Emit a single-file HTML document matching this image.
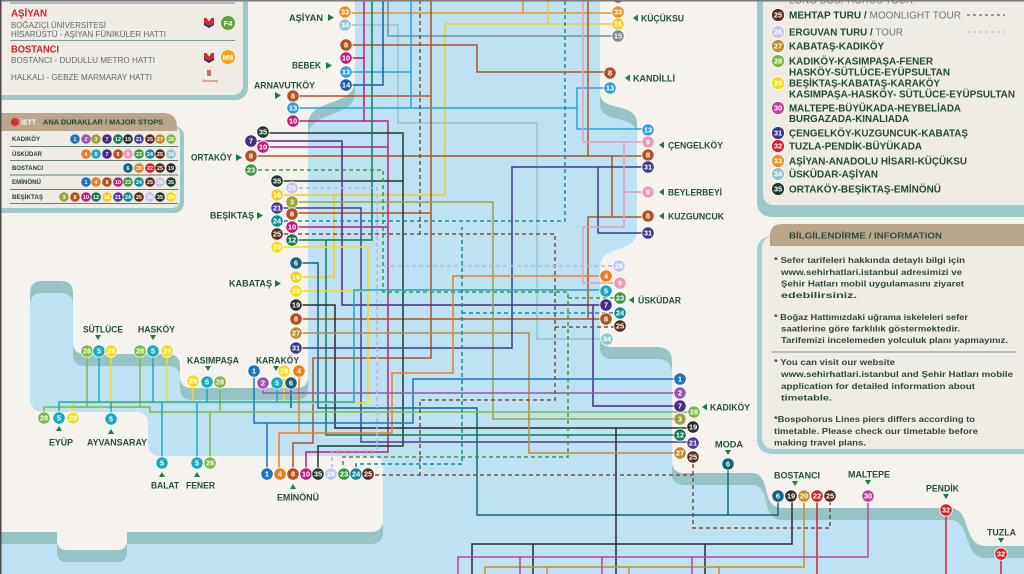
<!DOCTYPE html>
<html><head><meta charset="utf-8">
<style>
html,body{margin:0;padding:0;background:#f6f2ed;}
svg{display:block}
.m circle{stroke:#fff;stroke-width:.8}
.m text{font-family:"Liberation Sans",sans-serif;font-weight:bold;font-size:7.5px;fill:#fff;text-anchor:middle}
.t circle{stroke:none}
.t text{font-family:"Liberation Sans",sans-serif;font-weight:bold;font-size:5.3px;fill:#fff;text-anchor:middle}
.c1{fill:#1976bb}.c2{fill:#9a58ac}.c3{fill:#9ca23b}.c4{fill:#ee7c1c}.c5{fill:#18aabf}.c6{fill:#12677d}.c7{fill:#4a2b83}.c8{fill:#b3511f}.c9{fill:#ee9ab5}.c10{fill:#c11c78}.c12{fill:#13785a}.c13{fill:#2aa1de}.c14{fill:#1a5da6}.c15{fill:#7c8a8d}.c16{fill:#f3cd22}.c19{fill:#2b2b2b}.c20{fill:#cf8a24}.c21{fill:#4b3d9a}.c22{fill:#d2202c}.c23{fill:#3a993c}.c24{fill:#148a9a}.c25{fill:#5a2b1d}.c26{fill:#c5c5e9}.c27{fill:#c08a33}.c28{fill:#7bb944}.c29{fill:#f5dc14}.c30{fill:#c041a0}.c31{fill:#393a8c}.c32{fill:#d8202b}.c33{fill:#ef8f1f}.c34{fill:#91c6ce}.c35{fill:#1d3a2a}
.l{font-family:"Liberation Sans",sans-serif;font-weight:bold;font-size:9.5px;fill:#23503a}
.g{font-family:"Liberation Sans",sans-serif;font-weight:bold;font-size:10px;fill:#1f4a30}
.i{font-family:"Liberation Sans",sans-serif;font-weight:bold;font-size:8.6px;fill:#2c4a38}
.r{font-family:"Liberation Sans",sans-serif;font-weight:bold;font-size:6px;fill:#23403a}
.p{font-family:"Liberation Sans",sans-serif;font-size:8.5px;fill:#5d6b6b}
.red{font-family:"Liberation Sans",sans-serif;font-weight:bold;font-size:10px;fill:#d4202a}
.tri{fill:#1e7a3e}
</style></head>
<body>
<svg width="1024" height="574" viewBox="0 0 1024 574" xmlns="http://www.w3.org/2000/svg">
<rect width="1024" height="574" fill="#bde2f4"/>
<defs>
<path id="eu" d="M0,0 L355,0 L355,80 C355,108 308,97 308,125 L308,376 Q308,388 296,388 L192,388 Q180,388 180,376 L180,366 Q180,354 168,354 L85,354 Q73,354 73,342 L73,293 Q73,281 61,281 L42,281 Q30,281 30,293 L30,398 Q30,412 44,412 L136,412 Q148,412 148,424 L148,444 Q148,456 161,456 L371,456 Q383,456 383,468 L383,520 Q383,532 371,532 L127,532 L127,540 Q127,550 117,550 L67,550 Q57,550 57,540 L57,532 L0,532 Z"/>
<path id="as" d="M600,0 L600,92 C600,114 637,100 637,124 L637,230 C637,256 600,242 600,268 L600,335 Q600,347 612,347 L657,347 Q672,347 672,362 L672,461 Q672,473 684,473 L752,473 C772,473 760,508 782,508 L950,508 C972,508 962,546 986,546 L1024,546 L1024,0 Z"/>
</defs>
<g fill="#96c4c4" transform="translate(0,12)"><use href="#eu"/><use href="#as"/></g>
<use href="#eu" fill="#f6f2ed"/>
<use href="#as" fill="#f6f2ed"/>

<!-- top-left legend panel -->
<rect x="-20" y="-20" width="268" height="120" rx="12" fill="#9cc8c9"/>
<rect x="-20" y="-20" width="263" height="115" rx="10" fill="#efebe5"/>
<line x1="10" y1="3" x2="235" y2="3" stroke="#6f8c86" stroke-width="1"/>
<text class="red" x="11" y="16.5" textLength="36" lengthAdjust="spacingAndGlyphs">AŞİYAN</text>
<text class="p" x="11" y="28" textLength="95" lengthAdjust="spacingAndGlyphs">BOĞAZİÇİ ÜNİVERSİTESİ</text>
<text class="p" x="11" y="37" textLength="155" lengthAdjust="spacingAndGlyphs">HİSARÜSTÜ - AŞİYAN FÜNİKÜLER HATTI</text>
<line x1="10" y1="40.5" x2="235" y2="40.5" stroke="#7a9a94" stroke-width="1"/>
<text class="red" x="11" y="52.5" textLength="48" lengthAdjust="spacingAndGlyphs">BOSTANCI</text>
<text class="p" x="11" y="63" textLength="144" lengthAdjust="spacingAndGlyphs">BOSTANCI - DUDULLU METRO HATTI</text>
<text class="p" x="11" y="80" textLength="141" lengthAdjust="spacingAndGlyphs">HALKALI - GEBZE MARMARAY HATTI</text>
<path d="M204,18 L206.5,18 L209,21.5 L211.5,18 L214,18 L214,23 L209,26 L204,23 Z" fill="#d22a2a"/>
<path d="M204,23 L209,26 L214,23 L214,25 L209,28 L204,25 Z" fill="#1f2d6b"/>
<path d="M204,53 L206.5,53 L209,56.5 L211.5,53 L214,53 L214,58 L209,61 L204,58 Z" fill="#d22a2a"/>
<path d="M204,58 L209,61 L214,58 L214,60 L209,63 L204,60 Z" fill="#1f2d6b"/>
<circle cx="228" cy="23" r="7" fill="#5aa83c"/><text x="228" y="25.8" font-family="Liberation Sans,sans-serif" font-weight="bold" font-size="7.5" fill="#fff" text-anchor="middle">F4</text>
<circle cx="228" cy="57" r="7" fill="#f2a51c"/><text x="228" y="59.8" font-family="Liberation Sans,sans-serif" font-weight="bold" font-size="7.5" fill="#fff" text-anchor="middle">M8</text>
<rect x="207" y="70" width="4" height="6" fill="#c33" opacity=".7"/>
<text x="210" y="82" font-family="Liberation Sans,sans-serif" font-size="3.5" fill="#c33" text-anchor="middle">Marmaray</text>

<!-- stops table -->
<rect x="-10" y="126" width="194" height="87" rx="10" fill="#9cc8c9"/>
<rect x="-10" y="126" width="190" height="82" rx="8" fill="#efebe5"/>
<path d="M0,113 L163,113 Q177,113 177,127 L177,131 L0,131 Z" fill="#b9a68b"/>
<circle cx="15" cy="122" r="4" fill="#d9302c"/>
<text x="21" y="124.5" font-family="Liberation Sans,sans-serif" font-weight="bold" font-size="7" fill="#fff">İETT</text>
<text x="43" y="124.5" font-family="Liberation Sans,sans-serif" font-weight="bold" font-size="7.5" fill="#1f4a30" textLength="120" lengthAdjust="spacingAndGlyphs">ANA DURAKLAR / MAJOR STOPS</text>
<text class="r" x="12" y="141.2" textLength="28" lengthAdjust="spacingAndGlyphs">KADIKÖY</text>
<text class="r" x="12" y="156.2" textLength="30" lengthAdjust="spacingAndGlyphs">ÜSKÜDAR</text>
<text class="r" x="12" y="170.2" textLength="31" lengthAdjust="spacingAndGlyphs">BOSTANCI</text>
<text class="r" x="12" y="184.2" textLength="29" lengthAdjust="spacingAndGlyphs">EMİNÖNÜ</text>
<text class="r" x="12" y="199.2" textLength="31" lengthAdjust="spacingAndGlyphs">BEŞİKTAŞ</text>
<g stroke="#3a5a48" stroke-width=".8">
<line x1="10" y1="146.5" x2="178" y2="146.5"/><line x1="10" y1="160.5" x2="178" y2="160.5"/><line x1="10" y1="175" x2="178" y2="175"/><line x1="10" y1="189.5" x2="178" y2="189.5"/><line x1="10" y1="203.5" x2="178" y2="203.5"/>
</g>
<g class="t">
<circle class="c1" cx="75" cy="139" r="4.8"/><text x="75" y="141">1</text>
<circle class="c2" cx="86" cy="139" r="4.8"/><text x="86" y="141">2</text>
<circle class="c3" cx="96" cy="139" r="4.8"/><text x="96" y="141">3</text>
<circle class="c7" cx="107" cy="139" r="4.8"/><text x="107" y="141">7</text>
<circle class="c12" cx="118" cy="139" r="4.8"/><text x="118" y="141">12</text>
<circle class="c19" cx="128" cy="139" r="4.8"/><text x="128" y="141">19</text>
<circle class="c21" cx="139" cy="139" r="4.8"/><text x="139" y="141">21</text>
<circle class="c25" cx="150" cy="139" r="4.8"/><text x="150" y="141">25</text>
<circle class="c27" cx="160" cy="139" r="4.8"/><text x="160" y="141">27</text>
<circle class="c28" cx="171" cy="139" r="4.8"/><text x="171" y="141">28</text>

<circle class="c4" cx="86" cy="154" r="4.8"/><text x="86" y="156">4</text>
<circle class="c5" cx="96" cy="154" r="4.8"/><text x="96" y="156">5</text>
<circle class="c7" cx="107" cy="154" r="4.8"/><text x="107" y="156">7</text>
<circle class="c8" cx="118" cy="154" r="4.8"/><text x="118" y="156">8</text>
<circle class="c9" cx="128" cy="154" r="4.8"/><text x="128" y="156">9</text>
<circle class="c23" cx="139" cy="154" r="4.8"/><text x="139" y="156">23</text>
<circle class="c24" cx="150" cy="154" r="4.8"/><text x="150" y="156">24</text>
<circle class="c25" cx="160" cy="154" r="4.8"/><text x="160" y="156">25</text>
<circle class="c34" cx="171" cy="154" r="4.8"/><text x="171" y="156">34</text>

<circle class="c6" cx="128" cy="168" r="4.8"/><text x="128" y="170">6</text>
<circle class="c20" cx="139" cy="168" r="4.8"/><text x="139" y="170">20</text>
<circle class="c22" cx="150" cy="168" r="4.8"/><text x="150" y="170">22</text>
<circle class="c25" cx="160" cy="168" r="4.8"/><text x="160" y="170">25</text>
<circle class="c19" cx="171" cy="168" r="4.8"/><text x="171" y="170">19</text>

<circle class="c1" cx="86" cy="182" r="4.8"/><text x="86" y="184">1</text>
<circle class="c4" cx="96" cy="182" r="4.8"/><text x="96" y="184">4</text>
<circle class="c8" cx="107" cy="182" r="4.8"/><text x="107" y="184">8</text>
<circle class="c10" cx="118" cy="182" r="4.8"/><text x="118" y="184">10</text>
<circle class="c23" cx="128" cy="182" r="4.8"/><text x="128" y="184">23</text>
<circle class="c24" cx="139" cy="182" r="4.8"/><text x="139" y="184">24</text>
<circle class="c25" cx="150" cy="182" r="4.8"/><text x="150" y="184">25</text>
<circle class="c26" cx="160" cy="182" r="4.8"/><text x="160" y="184">26</text>
<circle class="c35" cx="171" cy="182" r="4.8"/><text x="171" y="184">35</text>

<circle class="c3" cx="64" cy="197" r="4.8"/><text x="64" y="199">3</text>
<circle class="c8" cx="75" cy="197" r="4.8"/><text x="75" y="199">8</text>
<circle class="c10" cx="86" cy="197" r="4.8"/><text x="86" y="199">10</text>
<circle class="c12" cx="96" cy="197" r="4.8"/><text x="96" y="199">12</text>
<circle class="c16" cx="107" cy="197" r="4.8"/><text x="107" y="199">16</text>
<circle class="c21" cx="118" cy="197" r="4.8"/><text x="118" y="199">21</text>
<circle class="c24" cx="128" cy="197" r="4.8"/><text x="128" y="199">24</text>
<circle class="c25" cx="139" cy="197" r="4.8"/><text x="139" y="199">25</text>
<circle class="c26" cx="150" cy="197" r="4.8"/><text x="150" y="199">26</text>
<circle class="c35" cx="160" cy="197" r="4.8"/><text x="160" y="199">35</text>
<circle class="c29" cx="171" cy="197" r="4.8"/><text x="171" y="199">29</text>
</g>

<!-- right legend panel -->
<rect x="757" y="-20" width="300" height="237" rx="14" fill="#9cc8c9"/>
<rect x="763" y="-20" width="300" height="225" rx="10" fill="#efebe5"/>
<!-- info panel -->
<rect x="757" y="236" width="300" height="218" rx="14" fill="#a3d0d6"/>
<rect x="762" y="236" width="300" height="213" rx="11" fill="#efebe5"/>
<path d="M770,246 L770,236 Q770,224 782,224 L1024,224 L1024,246 Z" fill="#b9a68b"/>
<text class="i" x="789" y="238.5" font-size="9" fill="#1f4a30" textLength="153" lengthAdjust="spacingAndGlyphs">BİLGİLENDİRME / INFORMATION</text>
<text class="i" x="774" y="263" textLength="191" lengthAdjust="spacingAndGlyphs">* Sefer tarifeleri hakkında detaylı bilgi için</text>
<text class="i" x="781" y="275" textLength="181" lengthAdjust="spacingAndGlyphs">www.sehirhatlari.istanbul adresimizi ve</text>
<text class="i" x="781" y="286.5" textLength="183" lengthAdjust="spacingAndGlyphs">Şehir Hatları mobil uygulamasını ziyaret</text>
<text class="i" x="781" y="298" textLength="76" lengthAdjust="spacingAndGlyphs">edebilirsiniz.</text>
<text class="i" x="774" y="320" textLength="194" lengthAdjust="spacingAndGlyphs">* Boğaz Hattımızdaki uğrama iskeleleri sefer</text>
<text class="i" x="781" y="331.5" textLength="179" lengthAdjust="spacingAndGlyphs">saatlerine göre farklılık göstermektedir.</text>
<text class="i" x="781" y="343" textLength="227" lengthAdjust="spacingAndGlyphs">Tarifemizi incelemeden yolculuk planı yapmayınız.</text>
<line x1="772" y1="352" x2="1016" y2="352" stroke="#5a6a60" stroke-width=".8"/>
<text class="i" x="774" y="365" textLength="121" lengthAdjust="spacingAndGlyphs">* You can visit our website</text>
<text class="i" x="781" y="377" textLength="232" lengthAdjust="spacingAndGlyphs">www.sehirhatlari.istanbul and Şehir Hatları mobile</text>
<text class="i" x="781" y="389" textLength="194" lengthAdjust="spacingAndGlyphs">application for detailed information about</text>
<text class="i" x="781" y="400.5" textLength="51" lengthAdjust="spacingAndGlyphs">timetable.</text>
<text class="i" x="774" y="422" textLength="201" lengthAdjust="spacingAndGlyphs">*Bospohorus Lines piers differs according to</text>
<text class="i" x="774" y="434" textLength="204" lengthAdjust="spacingAndGlyphs">timetable. Please check our timetable before</text>
<text class="i" x="774" y="445.5" textLength="92" lengthAdjust="spacingAndGlyphs">making travel plans.</text>

<!-- route lines -->
<g fill="none" stroke-width="1.5">
<path stroke="#ef8f1f" d="M345,13H618M523,0V13"/>
<path stroke="#91c6ce" d="M345,25H398V123H537V339H607"/>
<path stroke="#f3cd22" d="M618,24H445V195H277M548,0V24M296,277H334V195"/>
<path stroke="#7c8a8d" d="M618,36H388V0"/>
<path stroke="#b3511f" d="M346,45H477V72H610M293,96H431M431,0V358H313V443H293V474M292,213H431M251,156H648M588,0V156M612,156V217M296,319H606M588,319V217H648"/>
<path stroke="#c11c78" d="M364,0V122M346,58H364M293,121H388V452H306V474M263,147H388M292,227H388"/>
<path stroke="#2aa1de" d="M411,0V108M346,72H411M293,108H577M610,88H577V129H648"/>
<path stroke="#1a5da6" d="M346,85H383V0"/>
<path stroke="#1d3a2a" d="M263,133H403V446H318V474M277,181H403"/>
<path stroke="#4a2b83" d="M251,141H342V305H606M593,305V406H680"/>
<path stroke="#9ca23b" d="M292,202H493V419H680"/>
<path stroke="#4b3d9a" d="M277,208H361V442H693"/>
<path stroke="#13785a" d="M292,240H372V0M326,240V435H680"/>
<path stroke="#f5dc14" d="M277,247H368V403H73V418M296,291H368M111,351V403M167,351V403M193,381V403M284,371V403"/>
<path stroke="#12677d" d="M296,263H318V408H477V515H778V496M291,383V408M728,464V515"/>
<path stroke="#2b2b2b" d="M296,305H335V428H693M616,428V574M792,496V544H472V574M533,544V574M705,544V574"/>
<path stroke="#c08a33" d="M296,333H529V453H680"/>
<path stroke="#393a8c" d="M296,348H512V167H648M598,167V233H648"/>
<path stroke="#ee7c1c" d="M606,276H453V373H392V433H279V474M299,371V433"/>
<path stroke="#1976bb" d="M680,379H413V423H254V371M267,423V474"/>
<path stroke="#9a58ac" d="M263,383V393H680"/>
<path stroke="#7bb944" d="M44,418V407H150V412H694M87,351V407M140,351V407M220,382V412M210,463V412"/>
<path stroke="#18aabf" d="M606,290H354V402H59V418M99,351V402M153,351V402M207,382V402M277,383V402M111,419V402M162,463V402M197,463V402"/>
<path stroke="#ee9ab5" d="M583,0V142H648M624,142V227H583V283H620M624,192H648"/>
<path stroke="#cf8a24" d="M804,496V567H485V574M547,567V574M629,567V574M719,567V574"/>
<path stroke="#d2202c" d="M817,496V574"/>
<path stroke="#c041a0" d="M868,496V557H458V574M520,557V574M602,557V574M692,557V574"/>
<path stroke="#d8202b" d="M946,510V574M1001,554V574"/>
<path stroke="#3a993c" stroke-dasharray="4 3" d="M251,170H383V292H568V457H343V474M568,298H620"/>
<path stroke="#148a9a" stroke-dasharray="4 3" d="M277,221H565V0M356,474V464H462V227M462,313H620"/>
<path stroke="#7a5040" stroke-dasharray="4 3" d="M277,234H555V400H420V475M368,475H693M693,457V528H830V496M555,327H620M420,0V234"/>
<path stroke="#b5b5e0" stroke-dasharray="4 3" d="M292,188H377V451H332V474M377,266H619"/>
<path stroke="#9a7060" stroke-dasharray="3 3" d="M967,15H1005"/>
<path stroke="#c5c5e9" stroke-dasharray="3 3" d="M967,32H1005"/>
</g>

<!-- stop circles -->
<g class="m">
<circle class="c33" cx="345" cy="12" r="6.2"/><text x="345" y="14.7">33</text>
<circle class="c34" cx="345" cy="25" r="6.2"/><text x="345" y="27.7">34</text>
<circle class="c8" cx="346" cy="45" r="6.2"/><text x="346" y="47.7">8</text>
<circle class="c10" cx="346" cy="58" r="6.2"/><text x="346" y="60.7">10</text>
<circle class="c13" cx="346" cy="72" r="6.2"/><text x="346" y="74.7">13</text>
<circle class="c14" cx="346" cy="85" r="6.2"/><text x="346" y="87.7">14</text>
<circle class="c8" cx="293" cy="96" r="6.2"/><text x="293" y="98.7">8</text>
<circle class="c13" cx="293" cy="108" r="6.2"/><text x="293" y="110.7">13</text>
<circle class="c10" cx="293" cy="121" r="6.2"/><text x="293" y="123.7">10</text>
<circle class="c35" cx="263" cy="132" r="6.2"/><text x="263" y="134.7">35</text>
<circle class="c7" cx="251" cy="141" r="6.2"/><text x="251" y="143.7">7</text>
<circle class="c10" cx="263" cy="147" r="6.2"/><text x="263" y="149.7">10</text>
<circle class="c8" cx="251" cy="156" r="6.2"/><text x="251" y="158.7">8</text>
<circle class="c23" cx="251" cy="170" r="6.2"/><text x="251" y="172.7">23</text>
<circle class="c35" cx="277" cy="181" r="6.2"/><text x="277" y="183.7">35</text>
<circle class="c26" cx="292" cy="188" r="6.2"/><text x="292" y="190.7">26</text>
<circle class="c16" cx="277" cy="195" r="6.2"/><text x="277" y="197.7">16</text>
<circle class="c3" cx="292" cy="202" r="6.2"/><text x="292" y="204.7">3</text>
<circle class="c21" cx="277" cy="208" r="6.2"/><text x="277" y="210.7">21</text>
<circle class="c8" cx="292" cy="214" r="6.2"/><text x="292" y="216.7">8</text>
<circle class="c24" cx="277" cy="221" r="6.2"/><text x="277" y="223.7">24</text>
<circle class="c10" cx="292" cy="227" r="6.2"/><text x="292" y="229.7">10</text>
<circle class="c25" cx="277" cy="234" r="6.2"/><text x="277" y="236.7">25</text>
<circle class="c12" cx="292" cy="240" r="6.2"/><text x="292" y="242.7">12</text>
<circle class="c29" cx="277" cy="247" r="6.2"/><text x="277" y="249.7">29</text>
<circle class="c6" cx="296" cy="263" r="6.2"/><text x="296" y="265.7">6</text>
<circle class="c16" cx="296" cy="277" r="6.2"/><text x="296" y="279.7">16</text>
<circle class="c29" cx="296" cy="291" r="6.2"/><text x="296" y="293.7">29</text>
<circle class="c19" cx="296" cy="305" r="6.2"/><text x="296" y="307.7">19</text>
<circle class="c8" cx="296" cy="319" r="6.2"/><text x="296" y="321.7">8</text>
<circle class="c27" cx="296" cy="333" r="6.2"/><text x="296" y="335.7">27</text>
<circle class="c31" cx="296" cy="348" r="6.2"/><text x="296" y="350.7">31</text>
<circle class="c28" cx="87" cy="351" r="6.2"/><text x="87" y="353.7">28</text>
<circle class="c5" cx="99" cy="351" r="6.2"/><text x="99" y="353.7">5</text>
<circle class="c29" cx="111" cy="351" r="6.2"/><text x="111" y="353.7">29</text>
<circle class="c28" cx="140" cy="351" r="6.2"/><text x="140" y="353.7">28</text>
<circle class="c5" cx="153" cy="351" r="6.2"/><text x="153" y="353.7">5</text>
<circle class="c29" cx="167" cy="351" r="6.2"/><text x="167" y="353.7">29</text>
<circle class="c29" cx="193" cy="381" r="6.2"/><text x="193" y="383.7">29</text>
<circle class="c5" cx="207" cy="382" r="6.2"/><text x="207" y="384.7">5</text>
<circle class="c28" cx="220" cy="382" r="6.2"/><text x="220" y="384.7">28</text>
<circle class="c1" cx="254" cy="371" r="6.2"/><text x="254" y="373.7">1</text>
<circle class="c29" cx="284" cy="371" r="6.2"/><text x="284" y="373.7">29</text>
<circle class="c4" cx="299" cy="371" r="6.2"/><text x="299" y="373.7">4</text>
<circle class="c2" cx="263" cy="383" r="6.2"/><text x="263" y="385.7">2</text>
<circle class="c5" cx="277" cy="383" r="6.2"/><text x="277" y="385.7">5</text>
<circle class="c6" cx="291" cy="383" r="6.2"/><text x="291" y="385.7">6</text>
<circle class="c28" cx="44" cy="418" r="6.2"/><text x="44" y="420.7">28</text>
<circle class="c5" cx="59" cy="418" r="6.2"/><text x="59" y="420.7">5</text>
<circle class="c29" cx="73" cy="418" r="6.2"/><text x="73" y="420.7">29</text>
<circle class="c5" cx="111" cy="419" r="6.2"/><text x="111" y="421.7">5</text>
<circle class="c5" cx="162" cy="463" r="6.2"/><text x="162" y="465.7">5</text>
<circle class="c5" cx="197" cy="463" r="6.2"/><text x="197" y="465.7">5</text>
<circle class="c28" cx="210" cy="463" r="6.2"/><text x="210" y="465.7">28</text>
<circle class="c1" cx="267" cy="474" r="6.2"/><text x="267" y="476.7">1</text>
<circle class="c4" cx="280" cy="474" r="6.2"/><text x="280" y="476.7">4</text>
<circle class="c8" cx="293" cy="474" r="6.2"/><text x="293" y="476.7">8</text>
<circle class="c10" cx="306" cy="474" r="6.2"/><text x="306" y="476.7">10</text>
<circle class="c35" cx="318" cy="474" r="6.2"/><text x="318" y="476.7">35</text>
<circle class="c26" cx="331" cy="474" r="6.2"/><text x="331" y="476.7">26</text>
<circle class="c23" cx="344" cy="474" r="6.2"/><text x="344" y="476.7">23</text>
<circle class="c24" cx="356" cy="474" r="6.2"/><text x="356" y="476.7">24</text>
<circle class="c25" cx="368" cy="474" r="6.2"/><text x="368" y="476.7">25</text>

<circle class="c8" cx="618" cy="-3" r="6.2"/>
<circle class="c33" cx="618" cy="12" r="6.2"/><text x="618" y="14.7">33</text>
<circle class="c16" cx="618" cy="24" r="6.2"/><text x="618" y="26.7">16</text>
<circle class="c15" cx="618" cy="36" r="6.2"/><text x="618" y="38.7">15</text>
<circle class="c8" cx="610" cy="73" r="6.2"/><text x="610" y="75.7">8</text>
<circle class="c13" cx="610" cy="88" r="6.2"/><text x="610" y="90.7">13</text>
<circle class="c13" cx="648" cy="130" r="6.2"/><text x="648" y="132.7">13</text>
<circle class="c9" cx="648" cy="142" r="6.2"/><text x="648" y="144.7">9</text>
<circle class="c8" cx="648" cy="155" r="6.2"/><text x="648" y="157.7">8</text>
<circle class="c31" cx="648" cy="167" r="6.2"/><text x="648" y="169.7">31</text>
<circle class="c9" cx="648" cy="192" r="6.2"/><text x="648" y="194.7">9</text>
<circle class="c8" cx="648" cy="216" r="6.2"/><text x="648" y="218.7">8</text>
<circle class="c31" cx="648" cy="233" r="6.2"/><text x="648" y="235.7">31</text>
<circle class="c26" cx="619" cy="266" r="6.2"/><text x="619" y="268.7">26</text>
<circle class="c4" cx="606" cy="276" r="6.2"/><text x="606" y="278.7">4</text>
<circle class="c9" cx="620" cy="283" r="6.2"/><text x="620" y="285.7">9</text>
<circle class="c5" cx="606" cy="291" r="6.2"/><text x="606" y="293.7">5</text>
<circle class="c23" cx="620" cy="298" r="6.2"/><text x="620" y="300.7">23</text>
<circle class="c7" cx="606" cy="305" r="6.2"/><text x="606" y="307.7">7</text>
<circle class="c24" cx="620" cy="313" r="6.2"/><text x="620" y="315.7">24</text>
<circle class="c8" cx="606" cy="319" r="6.2"/><text x="606" y="321.7">8</text>
<circle class="c25" cx="620" cy="326" r="6.2"/><text x="620" y="328.7">25</text>
<circle class="c34" cx="607" cy="339" r="6.2"/><text x="607" y="341.7">34</text>
<circle class="c1" cx="680" cy="379" r="6.2"/><text x="680" y="381.7">1</text>
<circle class="c2" cx="680" cy="393" r="6.2"/><text x="680" y="395.7">2</text>
<circle class="c7" cx="680" cy="406" r="6.2"/><text x="680" y="408.7">7</text>
<circle class="c28" cx="694" cy="412" r="6.2"/><text x="694" y="414.7">28</text>
<circle class="c3" cx="680" cy="419" r="6.2"/><text x="680" y="421.7">3</text>
<circle class="c19" cx="693" cy="427" r="6.2"/><text x="693" y="429.7">19</text>
<circle class="c12" cx="680" cy="435" r="6.2"/><text x="680" y="437.7">12</text>
<circle class="c21" cx="693" cy="443" r="6.2"/><text x="693" y="445.7">21</text>
<circle class="c27" cx="680" cy="453" r="6.2"/><text x="680" y="455.7">27</text>
<circle class="c25" cx="693" cy="457" r="6.2"/><text x="693" y="459.7">25</text>
<circle class="c6" cx="728" cy="464" r="6.2"/><text x="728" y="466.7">6</text>
<circle class="c6" cx="778" cy="496" r="6.2"/><text x="778" y="498.7">6</text>
<circle class="c19" cx="791" cy="496" r="6.2"/><text x="791" y="498.7">19</text>
<circle class="c20" cx="804" cy="496" r="6.2"/><text x="804" y="498.7">20</text>
<circle class="c22" cx="817" cy="496" r="6.2"/><text x="817" y="498.7">22</text>
<circle class="c25" cx="830" cy="496" r="6.2"/><text x="830" y="498.7">25</text>
<circle class="c30" cx="868" cy="496" r="6.2"/><text x="868" y="498.7">30</text>
<circle class="c32" cx="946" cy="510" r="6.2"/><text x="946" y="512.7">32</text>
<circle class="c32" cx="1001" cy="554" r="6.2"/><text x="1001" y="556.7">32</text>

<!-- legend circles -->
<circle class="c25" cx="778" cy="15" r="6.5"/><text x="778" y="17.7">25</text>
<circle class="c26" cx="778" cy="32" r="6.5"/><text x="778" y="34.7">26</text>
<circle class="c27" cx="778" cy="46" r="6.5"/><text x="778" y="48.7">27</text>
<circle class="c28" cx="778" cy="61" r="6.5"/><text x="778" y="63.7">28</text>
<circle class="c29" cx="778" cy="83" r="6.5"/><text x="778" y="85.7">29</text>
<circle class="c30" cx="778" cy="108" r="6.5"/><text x="778" y="110.7">30</text>
<circle class="c31" cx="778" cy="133" r="6.5"/><text x="778" y="135.7">31</text>
<circle class="c32" cx="778" cy="146" r="6.5"/><text x="778" y="148.7">32</text>
<circle class="c33" cx="778" cy="161" r="6.5"/><text x="778" y="163.7">33</text>
<circle class="c34" cx="778" cy="174" r="6.5"/><text x="778" y="176.7">34</text>
<circle class="c35" cx="778" cy="189" r="6.5"/><text x="778" y="191.7">35</text>
</g>

<!-- legend text -->
<text x="789" y="3.5" font-family="Liberation Sans,sans-serif" font-size="10" fill="#6a7a72" textLength="124" lengthAdjust="spacingAndGlyphs">LONG BOSPHORUS TOUR</text>
<text class="g" x="789" y="18.5" textLength="172" lengthAdjust="spacingAndGlyphs">MEHTAP TURU / <tspan font-weight="normal" fill="#6a7a72">MOONLIGHT TOUR</tspan></text>
<text class="g" x="789" y="35.5" textLength="114" lengthAdjust="spacingAndGlyphs">ERGUVAN TURU / <tspan font-weight="normal" fill="#6a7a72">TOUR</tspan></text>
<text class="g" x="789" y="49.5" textLength="95" lengthAdjust="spacingAndGlyphs">KABATAŞ-KADIKÖY</text>
<text class="g" x="789" y="64.5" textLength="144" lengthAdjust="spacingAndGlyphs">KADIKÖY-KASIMPAŞA-FENER</text>
<text class="g" x="789" y="75.5" textLength="161" lengthAdjust="spacingAndGlyphs">HASKÖY-SÜTLÜCE-EYÜPSULTAN</text>
<text class="g" x="789" y="86.5" textLength="151" lengthAdjust="spacingAndGlyphs">BEŞİKTAŞ-KABATAŞ-KARAKÖY</text>
<text class="g" x="789" y="97.5" textLength="226" lengthAdjust="spacingAndGlyphs">KASIMPAŞA-HASKÖY- SÜTLÜCE-EYÜPSULTAN</text>
<text class="g" x="789" y="111.5" textLength="172" lengthAdjust="spacingAndGlyphs">MALTEPE-BÜYÜKADA-HEYBELİADA</text>
<text class="g" x="789" y="122" textLength="120" lengthAdjust="spacingAndGlyphs">BURGAZADA-KINALIADA</text>
<text class="g" x="789" y="136.5" textLength="179" lengthAdjust="spacingAndGlyphs">ÇENGELKÖY-KUZGUNCUK-KABATAŞ</text>
<text class="g" x="789" y="149.5" textLength="133" lengthAdjust="spacingAndGlyphs">TUZLA-PENDİK-BÜYÜKADA</text>
<text class="g" x="789" y="164.5" textLength="178" lengthAdjust="spacingAndGlyphs">AŞİYAN-ANADOLU HİSARI-KÜÇÜKSU</text>
<text class="g" x="789" y="177.5" textLength="89" lengthAdjust="spacingAndGlyphs">ÜSKÜDAR-AŞİYAN</text>
<text class="g" x="789" y="192.5" textLength="152" lengthAdjust="spacingAndGlyphs">ORTAKÖY-BEŞİKTAŞ-EMİNÖNÜ</text>

<!-- station labels -->
<text class="l" x="289" y="21" textLength="34" lengthAdjust="spacingAndGlyphs">AŞİYAN</text>
<polygon class="tri" points="328,14 334,17.5 328,21"/>
<text class="l" x="292" y="68.5" textLength="29" lengthAdjust="spacingAndGlyphs">BEBEK</text>
<polygon class="tri" points="326,62 332,65.5 326,69"/>
<text class="l" x="254" y="88.5" textLength="61" lengthAdjust="spacingAndGlyphs">ARNAVUTKÖY</text>
<polygon class="tri" points="275,92 281,95.5 275,99"/>
<text class="l" x="191" y="160.5" textLength="41" lengthAdjust="spacingAndGlyphs">ORTAKÖY</text>
<polygon class="tri" points="236,154 242,157.5 236,161"/>
<text class="l" x="210" y="218.5" textLength="44" lengthAdjust="spacingAndGlyphs">BEŞİKTAŞ</text>
<polygon class="tri" points="257,212 263,215.5 257,219"/>
<text class="l" x="229" y="286.5" textLength="43" lengthAdjust="spacingAndGlyphs">KABATAŞ</text>
<polygon class="tri" points="275,280 281,283.5 275,287"/>
<text class="l" x="83" y="332.5" textLength="40" lengthAdjust="spacingAndGlyphs">SÜTLÜCE</text>
<polygon class="tri" points="95,335 101,335 98,340"/>
<text class="l" x="138" y="332.5" textLength="37" lengthAdjust="spacingAndGlyphs">HASKÖY</text>
<polygon class="tri" points="150,335 156,335 153,340"/>
<text class="l" x="187" y="363.5" textLength="52" lengthAdjust="spacingAndGlyphs">KASIMPAŞA</text>
<polygon class="tri" points="205,366 211,366 208,371"/>
<text class="l" x="256" y="363.5" textLength="43" lengthAdjust="spacingAndGlyphs">KARAKÖY</text>
<polygon class="tri" points="273,366 279,366 276,371"/>
<text class="l" x="49" y="445.5" textLength="24" lengthAdjust="spacingAndGlyphs">EYÜP</text>
<polygon class="tri" points="56,431 62,431 59,426"/>
<text class="l" x="87" y="445.5" textLength="60" lengthAdjust="spacingAndGlyphs">AYVANSARAY</text>
<polygon class="tri" points="108,434 114,434 111,429"/>
<text class="l" x="151" y="488.5" textLength="28" lengthAdjust="spacingAndGlyphs">BALAT</text>
<polygon class="tri" points="159,477 165,477 162,472"/>
<text class="l" x="186" y="488.5" textLength="29" lengthAdjust="spacingAndGlyphs">FENER</text>
<polygon class="tri" points="194,477 200,477 197,472"/>
<text class="l" x="277" y="500.5" textLength="42" lengthAdjust="spacingAndGlyphs">EMİNÖNÜ</text>
<polygon class="tri" points="290,489 296,489 293,484"/>
<polygon class="tri" points="633,18 638,14.5 638,21.5"/>
<text class="l" x="641" y="21.5" textLength="43" lengthAdjust="spacingAndGlyphs">KÜÇÜKSU</text>
<polygon class="tri" points="625,78 630,74.5 630,81.5"/>
<text class="l" x="633" y="81.5" textLength="42" lengthAdjust="spacingAndGlyphs">KANDİLLİ</text>
<polygon class="tri" points="659,145 664,141.5 664,148.5"/>
<text class="l" x="668" y="148.5" textLength="55" lengthAdjust="spacingAndGlyphs">ÇENGELKÖY</text>
<polygon class="tri" points="659,192 664,188.5 664,195.5"/>
<text class="l" x="668" y="195.5" textLength="54" lengthAdjust="spacingAndGlyphs">BEYLERBEYİ</text>
<polygon class="tri" points="659,216 664,212.5 664,219.5"/>
<text class="l" x="668" y="219.5" textLength="56" lengthAdjust="spacingAndGlyphs">KUZGUNCUK</text>
<polygon class="tri" points="629,300 634,296.5 634,303.5"/>
<text class="l" x="638" y="303.5" textLength="43" lengthAdjust="spacingAndGlyphs">ÜSKÜDAR</text>
<polygon class="tri" points="702,407 707,403.5 707,410.5"/>
<text class="l" x="710" y="410.5" textLength="40" lengthAdjust="spacingAndGlyphs">KADIKÖY</text>
<text class="l" x="715" y="447.5" textLength="28" lengthAdjust="spacingAndGlyphs">MODA</text>
<polygon class="tri" points="725,450 731,450 728,455"/>
<text class="l" x="774" y="478.5" textLength="46" lengthAdjust="spacingAndGlyphs">BOSTANCI</text>
<polygon class="tri" points="792,481 798,481 795,486"/>
<text class="l" x="848" y="477.5" textLength="42" lengthAdjust="spacingAndGlyphs">MALTEPE</text>
<polygon class="tri" points="865,480 871,480 868,485"/>
<text class="l" x="926" y="491.5" textLength="33" lengthAdjust="spacingAndGlyphs">PENDİK</text>
<polygon class="tri" points="943,494 949,494 946,499"/>
<text class="l" x="987" y="535.5" textLength="29" lengthAdjust="spacingAndGlyphs">TUZLA</text>
<polygon class="tri" points="998,538 1004,538 1001,543"/>

<!-- frame edges -->
<rect x="0" y="0" width="1024" height="1.5" fill="#7a7a7a"/>
<rect x="0" y="0" width="1.5" height="574" fill="#4a4a4a"/>
</svg>
</body></html>
